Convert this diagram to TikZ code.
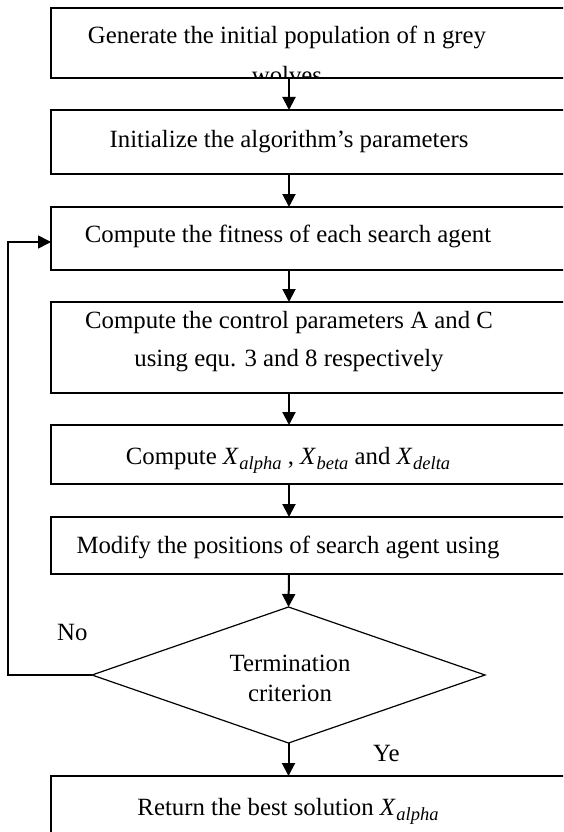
\documentclass[tikz,border=0pt]{standalone}
\usepackage{fontspec}
\setmainfont{Liberation Serif}
\usetikzlibrary{arrows.meta,shapes.geometric}
\newcommand{\xsub}[1]{\textit{X}\kern0.5pt\raisebox{-5pt}{\fontsize{18.5}{18.5}\selectfont\itshape #1}}
\begin{document}
\begin{tikzpicture}[x=1pt,y=-1pt,
  box/.style={draw,line width=1.5pt,inner sep=0pt,outer sep=0pt,minimum width=524pt},
  txt/.style={inner sep=0pt,align=center,font=\fontsize{24.8}{38}\selectfont},
  arr/.style={line width=2pt,-{Triangle[length=13pt,width=13pt]}},
  dec/.style={draw,diamond,line width=1.2pt,inner sep=0pt,outer sep=0pt,minimum width=393pt,minimum height=136pt}]
\clip (0,0) rectangle (563,832);
\coordinate (ax) at (289,0);
% boxes
\node[box,minimum height=70pt] (b1) at (313,43) {};
\node[box,minimum height=64pt] (b2) at (313,142) {};
\node[box,minimum height=63pt] (b3) at (313,238.5) {};
\node[box,minimum height=91pt] (b4) at (313,347.5) {};
\node[box,minimum height=59pt] (b5) at (313,454.5) {};
\node[box,minimum height=57pt] (b6) at (313,545.5) {};
\node[box,minimum height=74pt] (b7) at (313,813) {};
\node[dec] (dia) at (288.5,675) {};
% texts
\begin{scope}
\clip (b1.north west) rectangle ([yshift=0.8pt]b1.south east);
\node[txt,anchor=base,font=\fontsize{24.8}{40}\selectfont] (t1) at (287,84) {Generate the initial population of n grey\\wolves};
\end{scope}
\node[txt,anchor=base] (t2) at (289,147) {Initialize the algorithm’s parameters};
\node[txt,anchor=base] (t3) at (288,242) {Compute the fitness of each search agent};
\node[txt,anchor=base] (t4) at (289,366) {Compute the control parameters A and C\\using equ. 3 and 8 respectively};
\node[txt,anchor=base] (t5) at (288,464) {Compute \xsub{alpha} , \xsub{beta} and \xsub{delta}};
\node[txt,anchor=base] (t6) at (288,553) {Modify the positions of search agent using};
\node[txt,anchor=base,font=\fontsize{24.8}{30}\selectfont] (t7) at (290,701) {Termination\\criterion};
\node[txt,anchor=base] (t8) at (288,815) {Return the best solution \xsub{alpha}};
\node[txt,anchor=base west] (ye) at (373,761) {Ye};
\node[txt,anchor=base west] (no) at (57,640) {No};
% connectors
\draw[arr] (b1.south -| ax) -- (b2.north -| ax);
\draw[arr] (b2.south -| ax) -- (b3.north -| ax);
\draw[arr] (b3.south -| ax) -- (b4.north -| ax);
\draw[arr] (b4.south -| ax) -- (b5.north -| ax);
\draw[arr] (b5.south -| ax) -- (b6.north -| ax);
\draw[arr] (b6.south -| ax) -- (dia.north);
\draw[arr] (dia.south) -- (b7.north -| dia.south);
\coordinate (lp) at (8,242);
\draw[arr,line width=1.6pt] (dia.west) -| (lp) -- (lp -| b3.west);
\end{tikzpicture}
\end{document}
